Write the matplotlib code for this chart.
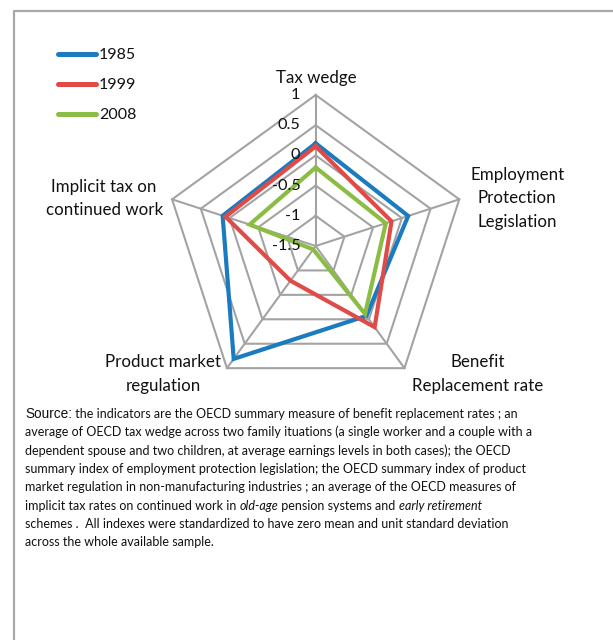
import numpy as np
import matplotlib
matplotlib.use("Agg")
import matplotlib.pyplot as plt
from matplotlib.lines import Line2D
from matplotlib import font_manager

# ---- data -------------------------------------------------------------
categories = [
    "Tax wedge",
    "Employment\nProtection\nLegislation",
    "Benefit\nReplacement rate",
    "Product market\nregulation",
    "Implicit tax on\ncontinued work",
]
years = ["1985", "1999", "2008"]
v1985 = [0.20, 0.11, -0.07, 0.81, 0.12]
v1999 = [0.15, -0.18, 0.16, -0.79, 0.07]
v2008 = [-0.20, -0.28, -0.11, -1.43, -0.35]
ring_levels = [-1.5, -1.0, -0.5, 0.0, 0.5, 1.0]
ring_labels = ["-1.5", "-1", "-0.5", "0", "0.5", "1"]

colors = ["#1b7bc0", "#e04a47", "#8bbd45"]
grid_color = "#a3a3a3"
FONT = "Lato"

# condensed face for the long note, if present
_names = {f.name for f in font_manager.fontManager.ttflist}
if "Liberation Sans Narrow" in _names:
    NOTE_FONT, NS = "Liberation Sans Narrow", 9.9
else:
    NOTE_FONT, NS = FONT, 9.0

W, H = 613, 640
fig = plt.figure(figsize=(W / 100, H / 100), dpi=100)
fig.patch.set_facecolor("white")


def px(x, y):
    """figure pixel (from top-left) -> figure fraction"""
    return x / W, 1 - y / H


# outer frame (left and top edges visible)
frame = Line2D([14 / W, 14 / W, 1.0], [0.0, 1 - 11 / H, 1 - 11 / H],
               transform=fig.transFigure, color="#a8a8a8", lw=1.6)
fig.add_artist(frame)

# ---- radar axes -------------------------------------------------------
cx, cy, R = 315.7, 246.0, 151.0
ax = fig.add_axes([(cx - R) / W, (H - cy - R) / H, 2 * R / W, 2 * R / H],
                  projection="polar")
ax.set_theta_offset(np.pi / 2)
ax.set_theta_direction(-1)
ax.set_ylim(ring_levels[0], ring_levels[-1])
ax.grid(False)
ax.spines["polar"].set_visible(False)
ax.set_xticks([])
ax.set_yticks([])
ax.patch.set_alpha(0)

n = len(categories)
angles = np.linspace(0, 2 * np.pi, n, endpoint=False)
closed = np.concatenate([angles, angles[:1]])

# pentagon rings and spokes
for lev in ring_levels[1:]:
    ax.plot(closed, [lev] * (n + 1), color=grid_color, lw=1.5, zorder=1,
            clip_on=False)
for a in angles:
    ax.plot([a, a], [ring_levels[0], ring_levels[-1]], color=grid_color,
            lw=1.5, zorder=1, clip_on=False)

# data series
for vals, col, lab in zip([v1985, v1999, v2008], colors, years):
    ax.plot(closed, list(vals) + [vals[0]], color=col, lw=3.0, zorder=3,
            solid_joinstyle="miter", label=lab, clip_on=False)

# radial tick labels along the top spoke
for lev, txt in zip(ring_levels, ring_labels):
    ax.annotate(txt, xy=(0, lev), xytext=(-11, 0), textcoords="offset points",
                ha="right", va="center", fontsize=11.8, family=FONT,
                color="#111111", zorder=4, annotation_clip=False)

# category labels around the outer ring (offsets in pixels)
label_offsets = [(1, 17), (58, 1), (73, -6), (-64, -6), (-68, 1)]
for a, name, (ox, oy) in zip(angles, categories, label_offsets):
    ax.annotate(name, xy=(a, ring_levels[-1]),
                xytext=(ox * 0.72, oy * 0.72), textcoords="offset points",
                ha="center", va="center", multialignment="center",
                fontsize=12.2, family=FONT, linespacing=1.58, color="#111111",
                annotation_clip=False)

# ---- legend -------------------------------------------------------------
for i, (lab, col) in enumerate(zip(years, colors)):
    y = 54 + 30 * i
    x0, y0 = px(58, y)
    x1, _ = px(96, y)
    fig.add_artist(Line2D([x0, x1], [y0, y0], transform=fig.transFigure,
                          color=col, lw=3.6, solid_capstyle="round"))
    tx, ty = px(99, y + 1)
    fig.text(tx, ty, lab, fontsize=11.5, family=FONT, va="center",
             color="#111111")

# ---- source note ------------------------------------------------------
note_lines = [
    [("Source:", "Liberation Sans", "normal", 9.8),
     (" the indicators are the OECD summary measure of benefit replacement rates ; an",
      NOTE_FONT, "normal", NS)],
    [("average of OECD tax wedge across two family ituations (a single worker and a couple with a",
      NOTE_FONT, "normal", NS)],
    [("dependent spouse and two children, at average earnings levels in both cases); the OECD",
      NOTE_FONT, "normal", NS)],
    [("summary index of employment protection legislation; the OECD summary index of product",
      NOTE_FONT, "normal", NS)],
    [("market regulation in non-manufacturing industries ; an average of the OECD measures of",
      NOTE_FONT, "normal", NS)],
    [("implicit tax rates on continued work in ", NOTE_FONT, "normal", NS),
     ("old-age", NOTE_FONT, "italic", NS),
     (" pension systems and ", NOTE_FONT, "normal", NS),
     ("early retirement", NOTE_FONT, "italic", NS)],
    [("schemes .  All indexes were standardized to have zero mean and unit standard deviation",
      NOTE_FONT, "normal", NS)],
    [("across the whole available sample.", NOTE_FONT, "normal", NS)],
]

fig.canvas.draw()
renderer = fig.canvas.get_renderer()
for i, segs in enumerate(note_lines):
    y = 413.5 + 18.4 * i
    xpix = 25.0
    for text, fam, style, size in segs:
        fx, fy = px(xpix, y)
        t = fig.text(fx, fy, text, family=fam, style=style, fontsize=size,
                     va="center", ha="left", color="#111111")
        bb = t.get_window_extent(renderer=renderer)
        xpix += bb.width

fig.savefig("out.png", dpi=100, facecolor="white")
